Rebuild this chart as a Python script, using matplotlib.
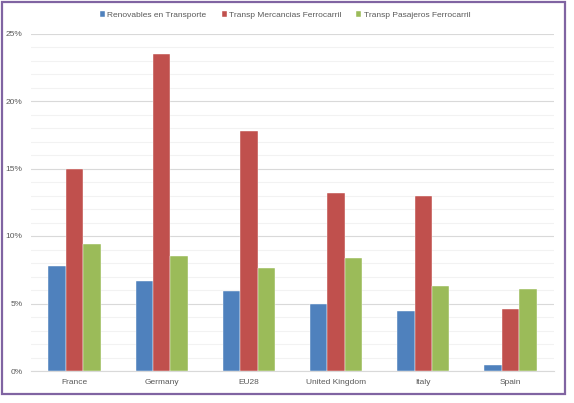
import numpy as np
import matplotlib
matplotlib.use("Agg")
import matplotlib.pyplot as plt
from matplotlib.patches import Rectangle
from matplotlib.ticker import MultipleLocator, PercentFormatter

plt.rcParams['font.family'] = ['Liberation Sans', 'DejaVu Sans']

countries = ['France', 'Germany', 'EU28', 'United Kingdom', 'Italy', 'Spain']
renovables = [7.8, 6.65, 5.95, 4.95, 4.45, 0.45]
mercancias = [15.0, 23.5, 17.8, 13.2, 13.0, 4.6]
pasajeros = [9.4, 8.5, 7.6, 8.4, 6.3, 6.1]
series_names = ['Renovables en Transporte', 'Transp Mercancias Ferrocarril',
                'Transp Pasajeros Ferrocarril']
colors = ['#4F81BD', '#C0504D', '#9BBB59']
txt = '#595959'

fig = plt.figure(figsize=(5.74, 4.03), dpi=100)
ax = fig.add_axes([31 / 574, 1 - 371 / 403, 523 / 574, (371 - 33.5) / 403])

x = np.arange(len(countries))
w = 0.2
for i, (vals, name) in enumerate(zip([renovables, mercancias, pasajeros], series_names)):
    ax.bar(x + (i - 1) * w, vals, w, color=colors[i], label=name,
           edgecolor='white', linewidth=0.3, zorder=3)

ax.set_xlim(-0.5, len(countries) - 0.5)
ax.set_ylim(0, 25)
ax.yaxis.set_major_locator(MultipleLocator(5))
ax.yaxis.set_minor_locator(MultipleLocator(1))
ax.yaxis.set_major_formatter(PercentFormatter(decimals=0))
ax.grid(axis='y', which='major', color='#d9d9d9', linewidth=0.8, zorder=0)
ax.grid(axis='y', which='minor', color='#f2f2f2', linewidth=0.8, zorder=0)
ax.set_xticks(x)
ax.set_xticklabels(countries)
ax.tick_params(axis='both', which='both', length=0, labelsize=6, colors=txt)
ax.tick_params(axis='y', pad=6)
ax.tick_params(axis='x', pad=6)
for s in ['top', 'right', 'left']:
    ax.spines[s].set_visible(False)
ax.spines['bottom'].set_color('#d9d9d9')
ax.spines['bottom'].set_linewidth(0.8)

fig.legend(loc='center', bbox_to_anchor=(0.497, 1 - 15 / 403), ncol=3,
           frameon=False, fontsize=6, labelcolor=txt, handlelength=0.6,
           handleheight=0.6, handletextpad=0.3, columnspacing=1.8)

fig.patches.append(Rectangle((1.5 / 574, 1 - 393.5 / 403), 563 / 574, 392 / 403,
                             transform=fig.transFigure, fill=False,
                             edgecolor='#8064A2', linewidth=1.6))

fig.savefig('out.png', dpi=100)
